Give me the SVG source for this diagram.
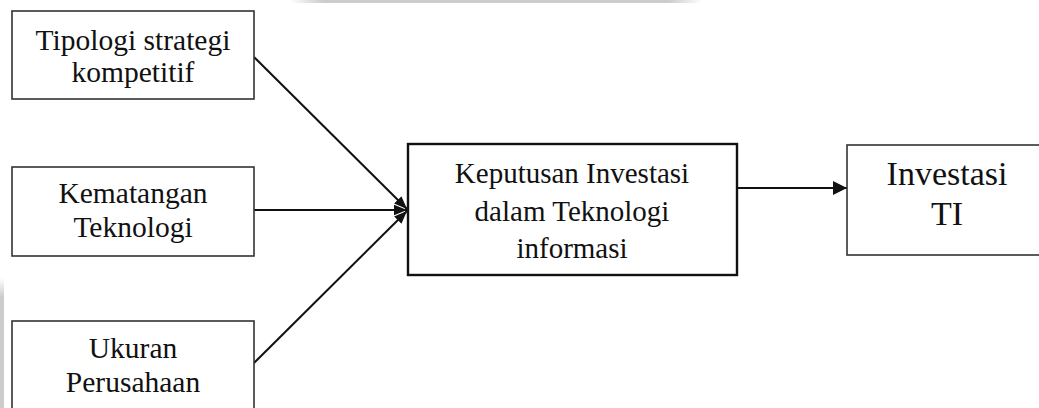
<svg xmlns="http://www.w3.org/2000/svg" width="1039" height="408" viewBox="0 0 1039 408">
<style>
.box{fill:#fff;stroke:#333;stroke-width:1.6}
.main{fill:#fff;stroke:#111;stroke-width:2.4}
text{font-family:'Liberation Serif','Times New Roman',serif;fill:#111;text-anchor:middle}
.t{font-size:29.5px}
.tm{font-size:29px}
.tb{font-size:34px}
.c{stroke:#111;stroke-width:2;fill:none}
</style>
<defs>
<marker id="ah" viewBox="0 0 10 10" refX="10" refY="5" markerWidth="13" markerHeight="13" markerUnits="userSpaceOnUse" orient="auto">
<path d="M0,1 L10,5 L0,9 Z" fill="#111"/>
</marker>
<marker id="ah2" viewBox="0 0 10 10" refX="10" refY="5" markerWidth="14" markerHeight="14" markerUnits="userSpaceOnUse" orient="auto">
<path d="M0,0 L10,5 L0,10 Z" fill="#111"/>
</marker>
<linearGradient id="gt" x1="0" x2="1" y1="0" y2="0">
<stop offset="0" stop-color="#ccc" stop-opacity="0"/>
<stop offset="0.08" stop-color="#ccc"/>
<stop offset="0.92" stop-color="#ccc"/>
<stop offset="1" stop-color="#ccc" stop-opacity="0"/>
</linearGradient>
<linearGradient id="gl" x1="0" x2="0" y1="0" y2="1">
<stop offset="0" stop-color="#ccc" stop-opacity="0"/>
<stop offset="0.15" stop-color="#ccc"/>
<stop offset="1" stop-color="#ccc"/>
</linearGradient>
</defs>
<rect width="1039" height="408" fill="#fff"/>
<rect x="290" y="0" width="412" height="3" fill="url(#gt)"/>
<rect x="0" y="278" width="4" height="130" fill="url(#gl)"/>
<g id="connectors">
<line class="c" x1="254" y1="57" x2="407" y2="209" marker-end="url(#ah)"/>
<line class="c" x1="254" y1="210" x2="407" y2="210" marker-end="url(#ah)"/>
<line class="c" x1="254" y1="363" x2="407" y2="211" marker-end="url(#ah)"/>
<line class="c" x1="737" y1="188" x2="847" y2="188" marker-end="url(#ah2)"/>
</g>
<g id="n1">
<rect class="box" x="12" y="11" width="242" height="88"/>
<text class="t" x="133" y="50">Tipologi strategi</text>
<text class="t" x="133" y="82">kompetitif</text>
</g>
<g id="n2">
<rect class="box" x="12" y="167" width="242" height="89"/>
<text class="t" x="133" y="203">Kematangan</text>
<text class="t" x="133" y="237">Teknologi</text>
</g>
<g id="n3">
<rect class="box" x="12" y="321" width="242" height="100"/>
<text class="t" x="133" y="358">Ukuran</text>
<text class="t" x="133" y="392">Perusahaan</text>
</g>
<g id="n4">
<rect class="main" x="408" y="144" width="329" height="131"/>
<text class="tm" x="572" y="183">Keputusan Investasi</text>
<text class="tm" x="572" y="221">dalam Teknologi</text>
<text class="tm" x="572" y="258">informasi</text>
</g>
<g id="n5">
<rect class="box" x="847" y="145" width="200" height="110"/>
<text class="tb" x="947" y="185">Investasi</text>
<text class="tb" x="947" y="225">TI</text>
</g>
</svg>
